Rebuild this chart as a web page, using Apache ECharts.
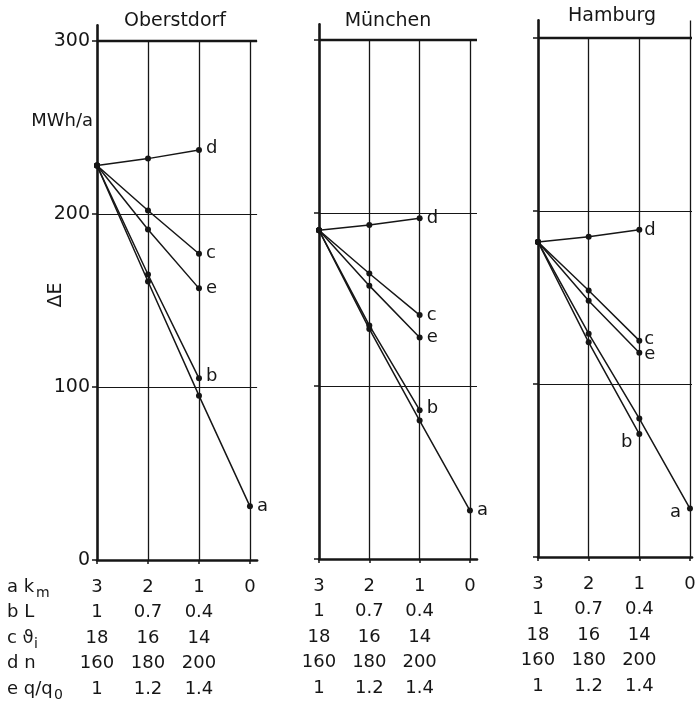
<!DOCTYPE html>
<html><head><meta charset="utf-8">
<script src="https://cdn.jsdelivr.net/npm/echarts@6/dist/echarts.min.js"></script>
<style>html,body{margin:0;padding:0;background:#fff}#c{width:697px;height:705px}</style>
</head><body><div id="c"></div>
<script>
// ---- data ----
const xValues = [3, 2, 1, 0];
const yTicks = [0, 100, 200, 300];
const seriesKeys = ['a', 'b', 'c', 'd', 'e'];

const oberstdorfA = [228, 161, 95, 31];
const oberstdorfB = [228, 165, 105];
const oberstdorfC = [228, 202, 177];
const oberstdorfD = [228, 232, 237];
const oberstdorfE = [228, 191, 157];

const muenchenA = [190, 133, 80, 28];
const muenchenB = [190, 135, 86];
const muenchenC = [190, 165, 141];
const muenchenD = [190, 193, 197];
const muenchenE = [190, 158, 128];

const hamburgA = [182, 129, 80, 28];
const hamburgB = [182, 124, 71];
const hamburgC = [182, 154, 125];
const hamburgD = [182, 185, 189];
const hamburgE = [182, 148, 118];

const kmLabels = ['3', '2', '1', '0'];
const lLabels = ['1', '0.7', '0.4'];
const thetaLabels = ['18', '16', '14'];
const nLabels = ['160', '180', '200'];
const qLabels = ['1', '1.2', '1.4'];

// ---- layout / style ----
const FONT = 'DejaVu Sans';
const INK = '#161616';
const panels = [
  { name: 'Oberstdorf', title: [175, 21], showY: true,
    data: { a: oberstdorfA, b: oberstdorfB, c: oberstdorfC, d: oberstdorfD, e: oberstdorfE },
    grid: { left: 97, top: 25.4, width: 160.1, height: 534.6 }, xMin: -0.14, yMax: 309, zeroTop: 300,
    lab: { a: ['right', [0, 0]], b: ['right', [0, -2]], c: ['right', [0, 0]], d: ['right', [0, -2]], e: ['right', [0, 0]] } },
  { name: 'München', title: [388, 21], showY: false,
    data: { a: muenchenA, b: muenchenB, c: muenchenC, d: muenchenD, e: muenchenE },
    grid: { left: 319, top: 24.4, width: 158, height: 534.6 }, xMin: -0.14, yMax: 309, zeroTop: 300,
    lab: { a: ['right', [0, 0]], b: ['right', [0, -2]], c: ['right', [0, 0]], d: ['right', [0, 0]], e: ['right', [0, 0]] } },
  { name: 'Hamburg', title: [612, 16], showY: false,
    data: { a: hamburgA, b: hamburgB, c: hamburgC, d: hamburgD, e: hamburgE },
    grid: { left: 538, top: 20.4, width: 154, height: 536.6 }, xMin: -0.04, yMax: 310, zeroTop: 310,
    lab: { a: ['left', [-2, 4]], b: ['left', [0, 8]], c: ['right', [-2, -1]], d: ['right', [-2, 0]], e: ['right', [-2, 2]] } }
];
const tableRows = [lLabels, thetaLabels, nLabels, qLabels];
const ROW = 25.5;

const grids = [], xAxes = [], yAxes = [], series = [];
panels.forEach((p, gi) => {
  grids.push(Object.assign({ containLabel: false, outerBoundsMode: 'none' }, p.grid));
  xAxes.push({
    type: 'value', gridIndex: gi, min: p.xMin, max: 3, inverse: true, position: 'bottom',
    axisLine: { show: true, onZero: false, lineStyle: { color: INK, width: 2.6 } },
    axisTick: { show: true, customValues: xValues, length: 4, lineStyle: { color: INK, width: 1.5 } },
    axisLabel: { show: true, customValues: xValues, margin: 18, fontFamily: FONT, fontSize: 18, color: INK,
      formatter: v => kmLabels[xValues.indexOf(Math.round(v))] },
    splitLine: { show: false }
  });
  tableRows.forEach((row, ri) => {
    xAxes.push({
      type: 'value', gridIndex: gi, min: p.xMin, max: 3, inverse: true, position: 'bottom', offset: ROW * (ri + 1),
      axisLine: { show: false }, axisTick: { show: false }, splitLine: { show: false },
      axisLabel: { show: true, customValues: xValues.slice(0, row.length), margin: 18, fontFamily: FONT, fontSize: 18, color: INK,
        formatter: v => row[xValues.indexOf(Math.round(v))] }
    });
  });
  yAxes.push({
    type: 'value', gridIndex: gi, min: 0, max: p.yMax, position: 'left',
    axisLine: { show: true, onZero: false, lineStyle: { color: INK, width: 2.6 } },
    axisTick: { show: true, customValues: yTicks, length: 5, lineStyle: { color: INK, width: 1.5 } },
    axisLabel: { show: p.showY, customValues: yTicks, margin: 7, fontFamily: FONT, fontSize: 19, color: INK },
    splitLine: { show: true, lineStyle: { color: INK, width: 1.2 } }
  });
  seriesKeys.forEach((k, si) => {
    const vals = p.data[k];
    const data = vals.map((v, i) => {
      const item = { value: [xValues[i], v] };
      if (i === vals.length - 1) {
        item.label = { show: true, formatter: k, position: p.lab[k][0], offset: p.lab[k][1], distance: 4,
          fontFamily: FONT, fontSize: 18, color: INK };
      }
      return item;
    });
    const s = {
      type: 'line', name: p.name + ' ' + k, xAxisIndex: gi * 5, yAxisIndex: gi, data,
      symbol: 'circle', symbolSize: 6, showAllSymbol: true, animation: false, clip: false,
      lineStyle: { color: INK, width: 1.5 }, itemStyle: { color: INK }, label: { show: false }, z: 3
    };
    if (si === 0) {
      s.markLine = { symbol: 'none', silent: true, animation: false, label: { show: false },
        lineStyle: { color: INK, width: 2.4, type: 'solid' }, data: [{ yAxis: yTicks[3] }] };
    }
    if (si === 1) {
      s.markLine = { symbol: 'none', silent: true, animation: false, label: { show: false },
        lineStyle: { color: INK, width: 1.3, type: 'solid' },
        data: xValues.slice(1).map(xv => [{ coord: [xv, 0] }, { coord: [xv, xv === 0 ? p.zeroTop : yTicks[3]] }]) };
    }
    series.push(s);
  });
});

const graphic = [];
panels.forEach(p => {
  graphic.push({ type: 'text', x: p.title[0], y: p.title[1],
    style: { text: p.name, font: '19px "' + FONT + '"', fill: INK, textAlign: 'center', textVerticalAlign: 'middle' } });
});
graphic.push({ type: 'text', x: 93, y: 121,
  style: { text: 'MWh/a', font: '18px "' + FONT + '"', fill: INK, textAlign: 'right', textVerticalAlign: 'middle' } });
graphic.push({ type: 'text', x: 56, y: 295, rotation: Math.PI / 2,
  style: { text: 'ΔE', font: '19px "' + FONT + '"', fill: INK, textAlign: 'center', textVerticalAlign: 'middle' } });
const rowHeads = [['a k', 'm', 36], ['b L', '', 0], ['c ϑ', 'i', 34], ['d n', '', 0], ['e q/q', '0', 54]];
rowHeads.forEach((r, i) => {
  const y = 587 + ROW * i;
  graphic.push({ type: 'text', x: 7, y,
    style: { text: r[0], font: '18px "' + FONT + '"', fill: INK, textAlign: 'left', textVerticalAlign: 'middle' } });
  if (r[1]) graphic.push({ type: 'text', x: r[2], y: y + 6,
    style: { text: r[1], font: '14px "' + FONT + '"', fill: INK, textAlign: 'left', textVerticalAlign: 'middle' } });
});

const chart = echarts.init(document.getElementById('c'), null, { renderer: 'canvas' });
chart.setOption({
  backgroundColor: '#ffffff', animation: false,
  grid: grids, xAxis: xAxes, yAxis: yAxes, series, graphic
});
</script></body></html>
